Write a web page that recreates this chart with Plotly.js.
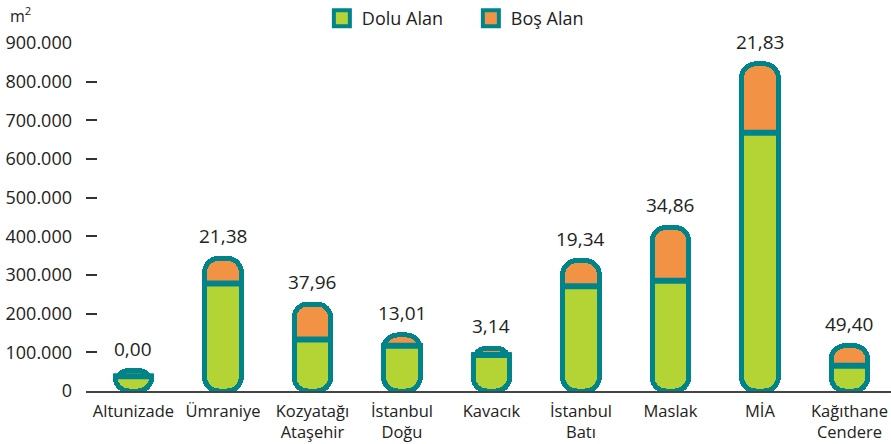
<!DOCTYPE html>
<html>
<head>
<meta charset="utf-8">
<script src="https://cdn.plot.ly/plotly-3.0.1.min.js"></script>
<style>html,body{margin:0;padding:0;background:#fff;}#chart{width:891px;height:444px;}</style>
</head>
<body>
<div id="chart"></div>
<script>
const categories = ['Altunizade','Ümraniye','Kozyatağı<br>Ataşehir','İstanbul<br>Doğu','Kavacık','İstanbul<br>Batı','Maslak','MİA','Kağıthane<br>Cendere'];
const doluAlan = [38000, 278000, 133000, 117000, 93000, 271000, 285000, 668000, 65000];
const bosAlan  = [15000, 65000, 92000, 28000, 18000, 66000, 138000, 178000, 52000];
const bosOrani = ['0,00','21,38','37,96','13,01','3,14','19,34','34,86','21,83','49,40'];
const yTicks = [0,100000,200000,300000,400000,500000,600000,700000,800000,900000];
const Y_MAX = 900000;

const GREEN = '#b4d334', ORANGE = '#f29244', TEAL = '#00848a';
const FONT = 'Open Sans, sans-serif';
const CLEAR = 'rgba(0,0,0,0)';
const BAR_W = 0.41, LINE_W = 5, RADIUS = 14;

const totals = doluAlan.map((d,i)=>d+bosAlan[i]);

const traces = [
  // Dolu (green) part: drawn on a reversed overlay axis so the stack's outer (rounded) end is at the bottom
  { type:'bar', x:categories, y:doluAlan.map(v=>Y_MAX - v), yaxis:'y2', width:BAR_W,
    marker:{color:CLEAR, line:{width:0}}, showlegend:false, hoverinfo:'skip' },
  { type:'bar', name:'Dolu Alan', x:categories, y:doluAlan, yaxis:'y2', width:BAR_W,
    marker:{color:GREEN, line:{color:TEAL, width:LINE_W}, cornerradius:RADIUS},
    showlegend:false, hoverinfo:'skip' },
  // Boş (orange) part stacked on top of the occupied area, rounded at the top
  { type:'bar', x:categories, y:doluAlan, yaxis:'y', width:BAR_W,
    marker:{color:CLEAR, line:{width:0}}, showlegend:false, hoverinfo:'skip' },
  { type:'bar', name:'Boş Alan', x:categories, y:bosAlan, yaxis:'y', width:BAR_W,
    marker:{color:ORANGE, line:{color:TEAL, width:LINE_W}, cornerradius:RADIUS},
    showlegend:false, hoverinfo:'skip' },
  // divider between occupied and vacant parts
  { type:'scatter', mode:'markers', x:categories, y:doluAlan.map(v=>Y_MAX - v), yaxis:'y2',
    marker:{symbol:'line-ew', size:29, color:TEAL, line:{color:TEAL, width:6}},
    showlegend:false, hoverinfo:'skip', cliponaxis:false },
  // legend entries
  { type:'scatter', mode:'markers', name:'Dolu Alan', x:[categories[0]], y:[null],
    marker:{symbol:'square', size:16, color:GREEN, line:{color:TEAL, width:4}} },
  { type:'scatter', mode:'markers', name:'Boş Alan', x:[categories[0]], y:[null],
    marker:{symbol:'square', size:16, color:ORANGE, line:{color:TEAL, width:4}} }
];

const annotations = categories.map((c,i)=>({
  x:c, y:totals[i], xref:'x', yref:'y', text:bosOrani[i], showarrow:false,
  yanchor:'bottom', yshift:7, font:{family:FONT, size:19, color:'#222'}
}));
annotations.push({
  xref:'paper', yref:'paper', x:-0.097, y:1.08, xanchor:'left', yanchor:'middle',
  text:'m<sup>2</sup>', showarrow:false, font:{family:FONT, size:16, color:'#222'}
});

const layout = {
  width:891, height:444,
  margin:{l:86, r:0, t:42, b:53},
  paper_bgcolor:'#fff', plot_bgcolor:'#fff',
  barmode:'stack',
  separators:',.',
  font:{family:FONT, color:'#222'},
  showlegend:true,
  legend:{orientation:'h', x:0.293, y:1.125, xanchor:'left', yanchor:'top',
          entrywidth:104, itemsizing:'trace',
          font:{family:FONT, size:18, color:'#222'}, traceorder:'normal'},
  xaxis:{type:'category', range:[-0.53, 8.464], showline:true, linecolor:'#444', linewidth:2,
         ticks:'', showgrid:false, zeroline:false, ticklabelstandoff:4,
         tickfont:{family:FONT, size:16.5, color:'#222'}},
  yaxis:{range:[0,Y_MAX], tickvals:yTicks, tickformat:',', ticks:'inside', ticklen:11,
         tickwidth:2, tickcolor:'#333', showline:false, showgrid:false, zeroline:false,
         ticklabelstandoff:13,
         tickfont:{family:FONT, size:18, color:'#222'}},
  yaxis2:{range:[Y_MAX,0], overlaying:'y', visible:false, showgrid:false, zeroline:false},
  annotations:annotations
};

Plotly.newPlot('chart', traces, layout, {displayModeBar:false, staticPlot:true});
</script>
</body>
</html>
